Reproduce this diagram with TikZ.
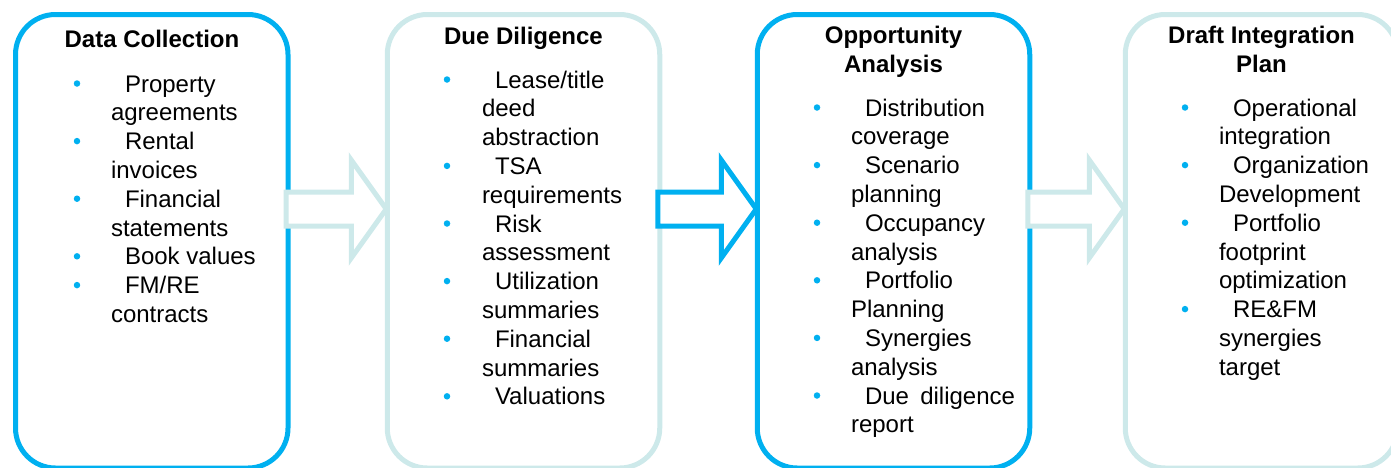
\documentclass[tikz,border=0pt]{standalone}
\usepackage{fontspec}
\setmainfont{Liberation Sans}
\usetikzlibrary{calc}
\definecolor{stageblue}{RGB}{0,176,240}
\definecolor{stagepale}{RGB}{205,233,234}
\tikzset{
  stagebox/.style={draw=#1, line width=5pt, rounded corners=40pt, fill=white,
    minimum width=272.5pt, minimum height=453.5pt, inner sep=0pt, outer sep=0pt},
  blockarrow/.style={draw=#1, line width=5pt, fill=white, line join=miter},
  txt/.style={anchor=base west, inner sep=0pt, outer sep=0pt,
    font=\fontsize{24}{29}\selectfont},
  ttl/.style={anchor=base, inner sep=0pt, outer sep=0pt,
    font=\fontsize{24}{29}\selectfont\bfseries},
  dot/.style={circle, fill=stageblue, minimum size=6.5pt, inner sep=0pt}
}
% hollow block arrow between two stage boxes (from, to, colour)
\newcommand\stagearrow[3]{%
  \draw[blockarrow=#3] let \p1=(#1.east), \p2=(#2.west) in
    (\x1-2pt,-192pt) -- (\x2-36pt,-192pt) -- (\x2-36pt,-160pt)
    -- (\x2-1pt,-209pt) -- (\x2-36pt,-258pt) -- (\x2-36pt,-226pt)
    -- (\x1-2pt,-226pt) -- cycle;}
% bullet list: first lines (b) and continuation lines (c)
% #1 prefix, #2 bullet x, #3 first-line x, #4 continuation x, #5 first baseline, #6 list
\newcommand\stagelist[6]{%
  \foreach \kind/\line [count=\k from 0] in {#6} {
    \pgfmathsetmacro\yb{#5+28.8*\k}
    \if b\kind
      \node[dot] (#1d\k) at (#2,\yb-8.5) {};
      \node[txt] (#1t\k) at (#3,\yb) {\line};
    \else
      \node[txt] (#1t\k) at (#4,\yb) {\line};
    \fi
  }}
\begin{document}
\begin{tikzpicture}[x=1pt,y=-1pt]
\path[use as bounding box, clip] (0,0) rectangle (1391,467);

% stage boxes
\node[stagebox=stageblue] (b1) at (151.75,241.25) {};
\node[stagebox=stagepale] (b2) at (523.5,241.25) {};
\node[stagebox=stageblue] (b3) at (893.5,241.25) {};
\node[stagebox=stagepale] (b4) at (1261.5,241.25) {};

% arrows between the stages
\stagearrow{b1}{b2}{stagepale}
\stagearrow{b2}{b3}{stageblue}
\stagearrow{b3}{b4}{stagepale}

% titles
\node[ttl] (h1) at (152,47) {Data Collection};
\node[ttl] (h2) at (523.5,44) {Due Diligence};
\node[ttl] (h3a) at (893.5,43) {Opportunity};
\node[ttl] (h3b) at (893.5,72) {Analysis};
\node[ttl] (h4a) at (1261.5,43) {Draft Integration};
\node[ttl] (h4b) at (1261.5,72) {Plan};

% item lists
\stagelist{a}{77}{125}{111}{92}{b/Property, c/agreements, b/Rental, c/invoices,
  b/Financial, c/statements, b/Book values, b/FM\slash RE, c/contracts}
\stagelist{e}{447}{495}{482}{88}{b/Lease\slash title, c/deed, c/abstraction,
  b/TSA, c/requirements, b/Risk, c/assessment, b/Utilization, c/summaries,
  b/Financial, c/summaries, b/Valuations}
\stagelist{g}{817}{865}{851}{116}{b/Distribution, c/coverage, b/Scenario,
  c/planning, b/Occupancy, c/analysis, b/Portfolio, c/Planning, b/Synergies,
  c/analysis, b/{\makebox[150pt][s]{Due diligence}}, c/report}
\stagelist{k}{1185}{1233}{1219}{116}{b/Operational, c/integration,
  b/Organization, c/Development, b/Portfolio, c/footprint, c/optimization,
  b/RE\&FM, c/synergies, c/target}
\end{tikzpicture}
\end{document}
